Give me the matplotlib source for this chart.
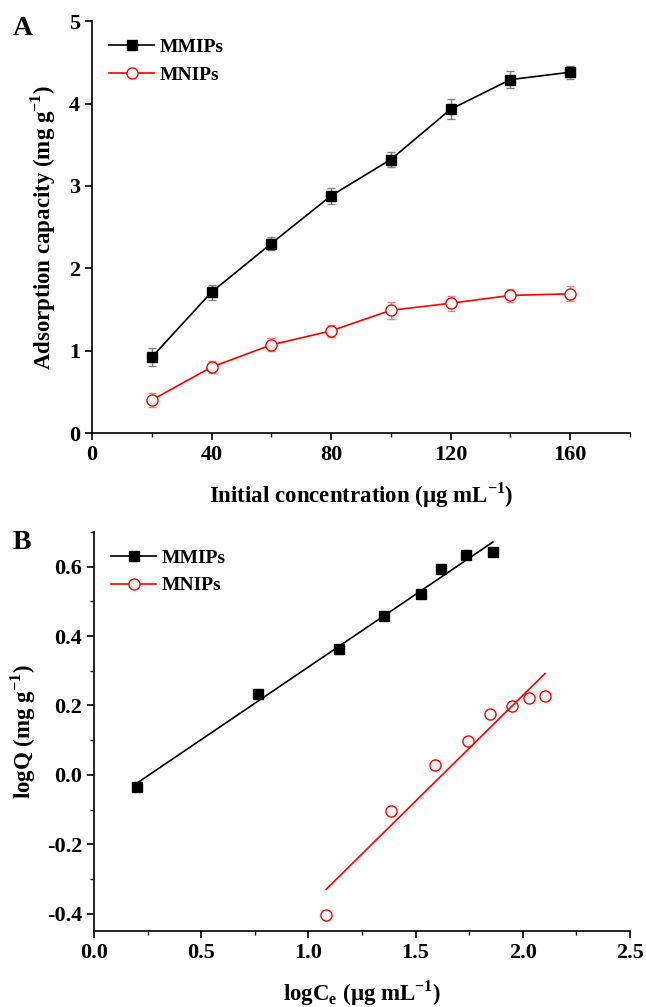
import numpy as np
import matplotlib
matplotlib.use("Agg")
import matplotlib.pyplot as plt
from matplotlib.ticker import MultipleLocator
from matplotlib.lines import Line2D

plt.rcParams['font.family'] = ['Liberation Serif', 'DejaVu Serif']
plt.rcParams['font.weight'] = 'bold'
plt.rcParams['mathtext.fontset'] = 'custom'
plt.rcParams['mathtext.rm'] = 'Liberation Serif:bold'
plt.rcParams['mathtext.bf'] = 'Liberation Serif:bold'

# ---- panel A: adsorption isotherm ----
conc = [20, 40, 60, 80, 100, 120, 140, 160]
mmip_q = [0.92, 1.71, 2.30, 2.88, 3.32, 3.93, 4.29, 4.38]
mmip_err = [0.11, 0.09, 0.08, 0.10, 0.09, 0.12, 0.10, 0.08]
mnip_q = [0.40, 0.80, 1.07, 1.24, 1.49, 1.575, 1.67, 1.69]
mnip_err = [0.09, 0.07, 0.08, 0.07, 0.10, 0.09, 0.08, 0.09]

# ---- panel B: Freundlich plot ----
mmip_logc = [0.20, 0.764, 1.142, 1.352, 1.525, 1.617, 1.736, 1.861]
mmip_logq = [-0.035, 0.233, 0.362, 0.457, 0.521, 0.594, 0.633, 0.642]
mmip_fit_x = [0.20, 1.861]
mmip_fit_y = [-0.024, 0.671]
mnip_logc = [1.083, 1.386, 1.590, 1.743, 1.847, 1.949, 2.031, 2.104]
mnip_logq = [-0.403, -0.103, 0.027, 0.097, 0.174, 0.198, 0.222, 0.227]
mnip_fit_x = [1.083, 2.104]
mnip_fit_y = [-0.330, 0.292]

fig = plt.figure(figsize=(6.46, 10.07), dpi=100)
axA = fig.add_axes([0.1424, 0.570, 0.8326, 0.409])
axB = fig.add_axes([0.1455, 0.0755, 0.8295, 0.3962])

for ax in (axA, axB):
    ax.spines['top'].set_visible(False)
    ax.spines['right'].set_visible(False)
    for s in ('left', 'bottom'):
        ax.spines[s].set_linewidth(1.2)
    ax.tick_params(direction='out', width=1.2, length=5, labelsize=16)
    ax.tick_params(which='minor', direction='out', width=1.0, length=3)

leg_kw = dict(loc='upper left', frameon=False, fontsize=14, handlelength=2.3,
              handletextpad=0.3, bbox_to_anchor=(0.0, 1.0))

# panel A
axA.errorbar(conc, mmip_q, yerr=mmip_err, color='black', marker='s', ms=7,
             lw=1.2, ecolor='#808080', elinewidth=1.0, capsize=3)
axA.errorbar(conc, mnip_q, yerr=mnip_err, color='red', marker='o', ms=8,
             mfc='white', mec='red', lw=1.2, ecolor='#ff8080', elinewidth=1.0,
             capsize=3)
axA.set_xlim(0, 180)
axA.set_ylim(0, 5)
axA.xaxis.set_major_locator(MultipleLocator(40))
axA.xaxis.set_minor_locator(MultipleLocator(20))
axA.yaxis.set_major_locator(MultipleLocator(1))
axA.set_xlabel(r'Initial concentration (μg mL$^{\mathbf{-1}}$)', fontsize=16.5,
               fontweight='bold', labelpad=11)
axA.set_ylabel(r'Adsorption capacity (mg g$^{\mathbf{-1}}$)', fontsize=16.5,
               fontweight='bold', labelpad=8)
hA = [Line2D([], [], color='black', marker='s', ms=7, lw=1.2),
      Line2D([], [], color='red', marker='o', ms=8, mfc='white', mec='red', lw=1.2)]
axA.legend(hA, ['MMIPs', 'MNIPs'], **leg_kw)
fig.text(0.02, 0.965, 'A', fontsize=20, fontweight='bold')

# panel B
axB.plot(mmip_logc, mmip_logq, 's', color='black', ms=7)
axB.plot(mmip_fit_x, mmip_fit_y, '-', color='black', lw=1.2)
axB.plot(mnip_logc, mnip_logq, 'o', color='red', ms=8, mfc='white', mec='red')
axB.plot(mnip_fit_x, mnip_fit_y, '-', color='red', lw=1.2)
axB.set_xlim(0, 2.5)
axB.set_ylim(-0.45, 0.7)
axB.xaxis.set_major_locator(MultipleLocator(0.5))
axB.xaxis.set_minor_locator(MultipleLocator(0.25))
axB.yaxis.set_major_locator(MultipleLocator(0.2))
axB.yaxis.set_minor_locator(MultipleLocator(0.1))
axB.xaxis.set_major_formatter(plt.FormatStrFormatter('%.1f'))
axB.yaxis.set_major_formatter(plt.FormatStrFormatter('%.1f'))
axB.set_xlabel(r'logC$_{\mathbf{e}}$ (μg mL$^{\mathbf{-1}}$)', fontsize=16.5,
               fontweight='bold', labelpad=11)
axB.set_ylabel(r'logQ (mg g$^{\mathbf{-1}}$)', fontsize=16.5, fontweight='bold',
               labelpad=6)
hB = [Line2D([], [], color='black', marker='s', ms=7, lw=1.2),
      Line2D([], [], color='red', marker='o', ms=8, mfc='white', mec='red', lw=1.2)]
axB.legend(hB, ['MMIPs', 'MNIPs'], **leg_kw)
fig.text(0.02, 0.455, 'B', fontsize=20, fontweight='bold')

fig.savefig('out.png', dpi=100)
